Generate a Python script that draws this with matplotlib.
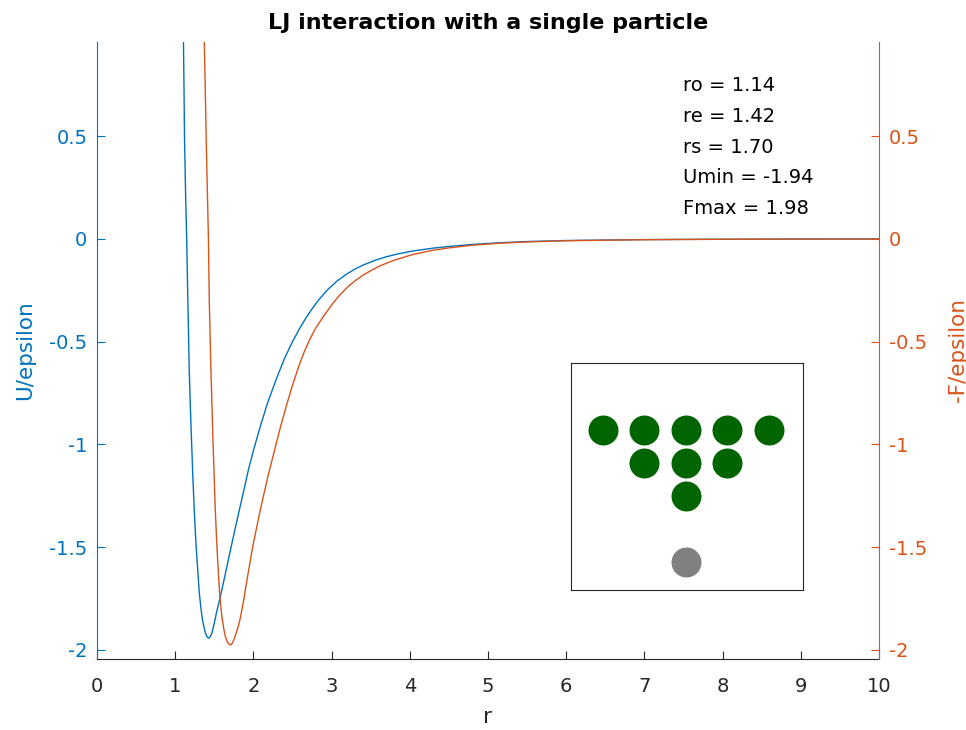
import matplotlib
matplotlib.use("Agg")
import matplotlib.pyplot as plt

# U/epsilon en fonction de r
r_u = [1.095, 1.106, 1.113, 1.120, 1.133, 1.147, 1.162, 1.180, 1.195, 1.209,
       1.225, 1.244, 1.265, 1.285, 1.308, 1.330, 1.350, 1.370, 1.385, 1.405,
       1.427, 1.447, 1.466, 1.485, 1.500, 1.530, 1.573, 1.630, 1.692, 1.755,
       1.820, 1.880, 1.936, 2.000, 2.090, 2.180, 2.290, 2.400, 2.500, 2.590,
       2.680, 2.760, 2.850, 2.950, 3.070, 3.190, 3.300, 3.400, 3.550, 3.700,
       3.850, 4.040, 4.300, 4.500, 4.800, 5.150, 5.500, 6.0, 7.0, 8.0,
       9.0, 10.0]
u = [1.25, 0.96, 0.72, 0.48, 0.22, 0.00, -0.30, -0.64, -0.83, -0.98,
     -1.15, -1.32, -1.478, -1.594, -1.72, -1.80, -1.855, -1.893, -1.915, -1.935,
     -1.943, -1.937, -1.922, -1.895, -1.870, -1.815, -1.748, -1.650, -1.540, -1.430,
     -1.320, -1.220, -1.124, -1.030, -0.910, -0.800, -0.685, -0.580, -0.500, -0.437,
     -0.380, -0.335, -0.290, -0.247, -0.205, -0.172, -0.147, -0.128, -0.105, -0.087,
     -0.073, -0.059, -0.045, -0.037, -0.027, -0.019, -0.013, -0.008, -0.0035, -0.0017,
     -0.0009, -0.0005]

# -F/epsilon en fonction de r
r_f = [1.358, 1.372, 1.385, 1.397, 1.412, 1.425, 1.436, 1.457, 1.470, 1.483,
       1.498, 1.513, 1.528, 1.543, 1.558, 1.573, 1.595, 1.620, 1.640, 1.660,
       1.683, 1.705, 1.730, 1.756, 1.780, 1.805, 1.830, 1.870, 1.920, 1.990,
       2.060, 2.120, 2.196, 2.290, 2.350, 2.420, 2.500, 2.590, 2.650, 2.720,
       2.800, 2.900, 3.000, 3.100, 3.200, 3.300, 3.400, 3.520, 3.620, 3.800,
       4.040, 4.300, 4.500, 4.800, 5.150, 5.500, 6.0, 7.0, 8.0, 9.0,
       10.0]
f = [1.25, 0.96, 0.72, 0.48, 0.22, 0.00, -0.30, -0.638, -0.81, -0.978,
     -1.15, -1.319, -1.45, -1.562, -1.66, -1.748, -1.83, -1.895, -1.932, -1.955,
     -1.970, -1.976, -1.968, -1.945, -1.918, -1.887, -1.850, -1.770, -1.655, -1.500,
     -1.370, -1.265, -1.140, -1.000, -0.910, -0.815, -0.712, -0.610, -0.550, -0.490,
     -0.432, -0.375, -0.322, -0.275, -0.236, -0.204, -0.177, -0.151, -0.131, -0.104,
     -0.076, -0.055, -0.044, -0.031, -0.021, -0.015, -0.009, -0.004, -0.002, -0.001,
     -0.0006]

infos = ["ro = 1.14", "re = 1.42", "rs = 1.70", "Umin = -1.94", "Fmax = 1.98"]

x_ticks = list(range(0, 11))
y_ticks = [-2, -1.5, -1, -0.5, 0, 0.5]
y_labels = ["-2", "-1.5", "-1", "-0.5", "0", "0.5"]

# particules du schéma (unités de réseau)
verts_x = [-2, -1, 0, 1, 2, -1, 0, 1, 0]
verts_y = [0, 0, 0, 0, 0, -0.8, -0.8, -0.8, -1.6]
gris_x = [0]
gris_y = [-3.2]

bleu = "#0072BD"
orange = "#D95319"
noir = "#262626"

plt.rcParams["font.family"] = ["DejaVu Sans"]
plt.rcParams["font.size"] = 14

fig = plt.figure(figsize=(9.66, 7.3), dpi=100)
ax = fig.add_axes([0.1004, 0.0973, 0.8095, 0.8452])
ax2 = ax.twinx()

ax.plot(r_u, u, color=bleu, lw=1.0, solid_joinstyle="round")
ax2.plot(r_f, f, color=orange, lw=1.0, solid_joinstyle="round")

ylim = (-2.044, 0.958)
ax.set_xlim(0, 10)
ax.set_ylim(*ylim)
ax2.set_ylim(*ylim)

ax.set_xticks(x_ticks)
ax.set_xticklabels([str(t) for t in x_ticks])
ax.set_yticks(y_ticks)
ax.set_yticklabels(y_labels)
ax2.set_yticks(y_ticks)
ax2.set_yticklabels(y_labels)

for a in (ax, ax2):
    a.spines["top"].set_visible(False)
    a.tick_params(direction="in", length=6, width=0.8, pad=7)
ax.spines["right"].set_visible(False)
ax2.spines["left"].set_visible(False)
ax.spines["bottom"].set_color(noir)
ax2.spines["bottom"].set_visible(False)
ax.spines["left"].set_color(bleu)
ax2.spines["right"].set_color(orange)
ax.tick_params(axis="x", colors=noir, pad=13)
ax.tick_params(axis="y", colors=bleu)
ax2.tick_params(axis="y", colors=orange)

ax.set_xlabel("r", color=noir, fontsize=15.5, labelpad=8)
ax.set_ylabel("U/epsilon", color=bleu, fontsize=15.5, labelpad=10)
ax2.set_ylabel("-F/epsilon", color=orange, fontsize=15.5, rotation=90, labelpad=15)
ax.set_title("LJ interaction with a single particle", fontweight="bold", fontsize=16, pad=9)

for i, ligne in enumerate(infos):
    ax.text(7.5, 0.745 - i * 0.1495, ligne, ha="left", va="center", color="black", fontsize=14)

# schéma en encart
ins = fig.add_axes([0.591, 0.192, 0.240, 0.311])
ins.scatter(verts_x, verts_y, s=466, color="#006400", linewidths=0)
ins.scatter(gris_x, gris_y, s=466, color="#808080", linewidths=0)
ins.set_xlim(-2.77, 2.82)
ins.set_ylim(-3.86, 1.61)
ins.set_xticks([])
ins.set_yticks([])
for s in ins.spines.values():
    s.set_color(noir)
    s.set_linewidth(0.8)

fig.savefig("out.png", dpi=100)
